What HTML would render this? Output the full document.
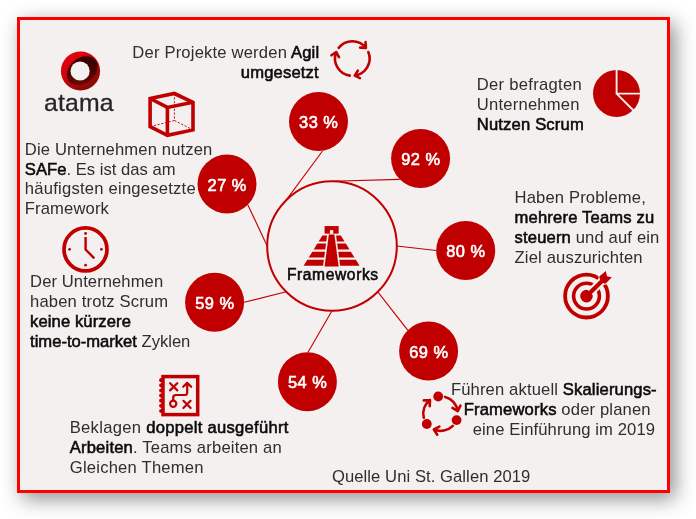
<!DOCTYPE html>
<html lang="de"><head><meta charset="utf-8"><title>Frameworks</title>
<style>
html,body{margin:0;padding:0;background:#fff}
body{width:696px;height:519px;position:relative;overflow:hidden;font-family:"Liberation Sans",sans-serif}
.panel{position:absolute;left:17px;top:17px;width:653px;height:476px;box-sizing:border-box;border:3px solid #ff0000;background:#f3f0ef;box-shadow:5px 6px 19px rgba(0,0,0,.44)}
svg{position:absolute;left:0;top:0}
.t{position:absolute;white-space:nowrap;font-size:16.6px;line-height:20px;color:#2e2e2e;--ls:0px;letter-spacing:var(--ls)}
.t b{font-weight:normal;-webkit-text-stroke:0.55px #0a0a0a;letter-spacing:var(--ls);color:#0a0a0a}
.p{position:absolute;width:60px;text-align:center;color:#fff;font-weight:normal;-webkit-text-stroke:.6px #fff;font-size:16.4px;line-height:20px;letter-spacing:.5px;text-indent:.5px}
</style></head><body>
<div class="panel"></div>
<svg width="696" height="519" viewBox="0 0 696 519">
<line x1="322.5" y1="151.0" x2="286.2" y2="200.2" stroke="#c00000" stroke-width="1.1"/>
<line x1="399.7" y1="179.4" x2="332.0" y2="181.2" stroke="#c00000" stroke-width="1.1"/>
<line x1="436.2" y1="250.5" x2="396.8" y2="246.0" stroke="#c00000" stroke-width="1.1"/>
<line x1="407.7" y1="330.2" x2="377.8" y2="291.8" stroke="#c00000" stroke-width="1.1"/>
<line x1="308.0" y1="352.2" x2="332.0" y2="310.8" stroke="#c00000" stroke-width="1.1"/>
<line x1="244.1" y1="302.3" x2="286.2" y2="291.8" stroke="#c00000" stroke-width="1.1"/>
<line x1="247.9" y1="204.9" x2="267.2" y2="246.0" stroke="#c00000" stroke-width="1.1"/>
<circle cx="332" cy="246" r="64.8" fill="#f3f0ef" stroke="#c00000" stroke-width="2"/>
<circle cx="318.5" cy="121.5" r="29.5" fill="#c00000"/>
<circle cx="420.6" cy="158.5" r="29.5" fill="#c00000"/>
<circle cx="465.7" cy="250.5" r="29.5" fill="#c00000"/>
<circle cx="428.6" cy="351.1" r="29.5" fill="#c00000"/>
<circle cx="307.4" cy="381.7" r="29.5" fill="#c00000"/>
<circle cx="214.6" cy="302.3" r="29.5" fill="#c00000"/>
<circle cx="227" cy="184" r="29.5" fill="#c00000"/>
<polygon points="324.57,226.06 338.64,226.06 338.64,233.65 324.57,233.65" fill="#c00000"/>
<polygon points="329.94,230.17 333.26,230.17 333.26,233.81 329.94,233.81" fill="#f3f0ef"/>
<polygon points="328.84,234.44 334.37,234.44 338.64,266.53 324.57,266.53" fill="#c00000"/>
<polygon points="322.36,235.55 327.11,235.55 326.31,241.55 318.63,241.55" fill="#c00000"/>
<polygon points="340.85,235.55 336.10,235.55 336.90,241.55 344.58,241.55" fill="#c00000"/>
<polygon points="317.35,243.61 326.04,243.61 325.26,249.46 313.72,249.46" fill="#c00000"/>
<polygon points="345.86,243.61 337.17,243.61 337.95,249.46 349.49,249.46" fill="#c00000"/>
<polygon points="312.35,251.67 324.97,251.67 324.19,257.52 308.72,257.52" fill="#c00000"/>
<polygon points="350.86,251.67 338.24,251.67 339.02,257.52 354.49,257.52" fill="#c00000"/>
<polygon points="307.34,259.73 323.89,259.73 323.10,265.73 303.61,265.73" fill="#c00000"/>
<polygon points="355.87,259.73 339.31,259.73 340.11,265.73 359.60,265.73" fill="#c00000"/>
<path d="M150.1 98.5L174.4 93.5L193.0 102.3L193.0 129.9L167.4 135.3L150.1 126.6Z" fill="none" stroke="#c00000" stroke-width="3.6" stroke-linejoin="miter"/>
<path d="M150.1 98.5L167.4 107.4L193.0 102.3" fill="none" stroke="#c00000" stroke-width="3.6" stroke-linejoin="miter"/>
<path d="M167.4 107.4L167.4 135.3" fill="none" stroke="#c00000" stroke-width="3.6" stroke-linejoin="miter"/>
<path d="M174.4 93.5L174.4 120.5" fill="none" stroke="#c00000" stroke-width="0.9" stroke-linejoin="miter" stroke-dasharray="2.2 1.6"/>
<path d="M174.4 120.5L150.1 126.6" fill="none" stroke="#c00000" stroke-width="0.9" stroke-linejoin="miter" stroke-dasharray="2.2 1.6"/>
<path d="M174.4 120.5L193.0 129.9" fill="none" stroke="#c00000" stroke-width="0.9" stroke-linejoin="miter" stroke-dasharray="2.2 1.6"/>
<circle cx="85.5" cy="249.4" r="21.5" fill="none" stroke="#c00000" stroke-width="3.7"/>
<path d="M85.6 237V249.6L94.3 258.3" fill="none" stroke="#c00000" stroke-width="2.4"/>
<circle cx="85.6" cy="233.5" r="1.4" fill="#c00000"/>
<circle cx="101.4" cy="249.3" r="1.4" fill="#c00000"/>
<circle cx="85.6" cy="265.2" r="1.4" fill="#c00000"/>
<circle cx="69.6" cy="249.3" r="1.4" fill="#c00000"/>
<path d="M368.34 52.02A17.3 17.3 0 0 1 354.71 75.63M359.92 78.17L354.71 75.63L357.78 70.71" fill="none" stroke="#c00000" stroke-width="2.6" stroke-linecap="round" stroke-linejoin="round"/>
<path d="M349.89 75.63A17.3 17.3 0 0 1 336.26 52.02M331.45 55.26L336.26 52.02L338.98 57.14" fill="none" stroke="#c00000" stroke-width="2.6" stroke-linecap="round" stroke-linejoin="round"/>
<path d="M338.67 47.85A17.3 17.3 0 0 1 365.93 47.85M365.53 42.06L365.93 47.85L360.14 47.65" fill="none" stroke="#c00000" stroke-width="2.6" stroke-linecap="round" stroke-linejoin="round"/>
<circle cx="616.5" cy="93.5" r="23.5" fill="#c00000"/>
<path d="M616.6 69V93.6H641M616.6 93.6L634 111" fill="none" stroke="#f3f0ef" stroke-width="1.9"/>
<circle cx="586.5" cy="296.1" r="21.4" fill="none" stroke="#c00000" stroke-width="3.8"/>
<circle cx="586.5" cy="296.1" r="12.9" fill="none" stroke="#c00000" stroke-width="3.6"/>
<circle cx="586.5" cy="296.1" r="6.3" fill="#c00000"/>
<path d="M590.2 292.4L604.1 278.9" stroke="#f3f0ef" stroke-width="8.4" fill="none"/>
<polygon points="599.47,276.55 605.83,271.35 606.75,276.55 611.60,277.13 605.48,283.48 600.63,282.56" fill="#c00000" stroke="#f3f0ef" stroke-width="2.2" paint-order="stroke"/>
<path d="M587.7 294.9L604.1 278.9" stroke="#c00000" stroke-width="4.2" fill="none"/>
<polygon points="599.47,276.55 605.83,271.35 606.75,276.55 611.60,277.13 605.48,283.48 600.63,282.56" fill="#c00000"/>
<circle cx="438.2" cy="396.5" r="4.9" fill="#c00000"/>
<path d="M445.08 396.89A17.3 17.3 0 0 1 457.73 411.19M460.45 405.62L457.73 411.19L452.47 407.91" fill="none" stroke="#c00000" stroke-width="2.6" stroke-linecap="round" stroke-linejoin="round"/>
<circle cx="456.6" cy="420.1" r="4.9" fill="#c00000"/>
<path d="M452.83 425.83A17.3 17.3 0 0 1 433.84 429.52M437.22 434.72L433.84 429.52L439.36 426.71" fill="none" stroke="#c00000" stroke-width="2.6" stroke-linecap="round" stroke-linejoin="round"/>
<circle cx="426.8" cy="424.0" r="4.9" fill="#c00000"/>
<path d="M423.81 417.79A17.3 17.3 0 0 1 429.95 399.97M423.76 400.40L429.95 399.97L429.73 406.16" fill="none" stroke="#c00000" stroke-width="2.6" stroke-linecap="round" stroke-linejoin="round"/>
<rect x="163" y="376.6" width="34.7" height="38" fill="none" stroke="#c00000" stroke-width="3.5"/>
<circle cx="161.2" cy="380.2" r="2.1" fill="#c00000"/>
<circle cx="161.2" cy="385.3" r="2.1" fill="#c00000"/>
<circle cx="161.2" cy="390.5" r="2.1" fill="#c00000"/>
<circle cx="161.2" cy="395.6" r="2.1" fill="#c00000"/>
<circle cx="161.2" cy="400.7" r="2.1" fill="#c00000"/>
<circle cx="161.2" cy="405.8" r="2.1" fill="#c00000"/>
<circle cx="161.2" cy="411.0" r="2.1" fill="#c00000"/>
<path d="M170.1 383.2L177.29999999999998 390.40000000000003M177.29999999999998 383.2L170.1 390.40000000000003" stroke="#c00000" stroke-width="2.2" fill="none" stroke-linecap="round"/>
<path d="M183.4 400.79999999999995L190.6 408.0M190.6 400.79999999999995L183.4 408.0" stroke="#c00000" stroke-width="2.2" fill="none" stroke-linecap="round"/>
<circle cx="173.2" cy="403.8" r="3.1" fill="none" stroke="#c00000" stroke-width="2.2"/>
<path d="M173.2 400.6V397.6Q173.2 395 175.8 395H184.6Q187.2 395 187.2 392.4V383.4M183.2 386.8L187.2 382.9L191.2 386.8" fill="none" stroke="#c00000" stroke-width="2.2" stroke-linecap="round" stroke-linejoin="round"/>
<defs>
<linearGradient id="lg1" x1="0.15" y1="0.1" x2="0.75" y2="1"><stop offset="0" stop-color="#e6000f"/><stop offset="0.45" stop-color="#c8050c"/><stop offset="1" stop-color="#7c0a06"/></linearGradient>
<linearGradient id="lg2" x1="1" y1="0" x2="0" y2="1"><stop offset="0" stop-color="#2a0000"/><stop offset="0.5" stop-color="#4a0300"/><stop offset="1" stop-color="#7a0a04"/></linearGradient>
</defs>
<circle cx="80.5" cy="71" r="19.6" fill="url(#lg1)"/>
<ellipse cx="82.3" cy="70.7" rx="17" ry="12.6" transform="rotate(-38 82.3 70.7)" fill="url(#lg2)"/>
<circle cx="80.1" cy="71" r="9.6" fill="#f3f0ef"/>
</svg>
<div class="t" id="t0" style="left:132.30px;top:43px;--ls:0.185px">Der Projekte werden <b>Agil</b></div>
<div class="t" id="t1" style="right:377.25px;top:63px;--ls:0.150px"><b>umgesetzt</b></div>
<div class="t" id="t2" style="left:24.85px;top:140px;--ls:0.142px">Die Unternehmen nutzen</div>
<div class="t" id="t3" style="left:24.85px;top:160px;--ls:0.026px"><b>SAFe</b>. Es ist das am</div>
<div class="t" id="t4" style="left:24.85px;top:179px;--ls:0.226px">häufigsten eingesetzte</div>
<div class="t" id="t5" style="left:24.85px;top:199px;--ls:0.130px">Framework</div>
<div class="t" id="t6" style="left:30.10px;top:272px;--ls:0.081px">Der Unternehmen</div>
<div class="t" id="t7" style="left:30.10px;top:292px;--ls:0.150px">haben trotz Scrum</div>
<div class="t" id="t8" style="left:30.10px;top:312px;--ls:0.097px"><b>keine kürzere</b></div>
<div class="t" id="t9" style="left:30.10px;top:332px;--ls:-0.010px"><b>time-to-market</b> Zyklen</div>
<div class="t" id="t10" style="left:69.75px;top:418px;--ls:0.285px">Beklagen <b>doppelt ausgeführt</b></div>
<div class="t" id="t11" style="left:69.75px;top:438px;--ls:0.181px"><b>Arbeiten</b>. Teams arbeiten an</div>
<div class="t" id="t12" style="left:69.75px;top:458px;--ls:0.219px">Gleichen Themen</div>
<div class="t" id="t13" style="left:476.80px;top:75px;--ls:0.283px">Der befragten</div>
<div class="t" id="t14" style="left:476.80px;top:95px;--ls:0.214px">Unternehmen</div>
<div class="t" id="t15" style="left:476.80px;top:115px;--ls:0.165px"><b>Nutzen Scrum</b></div>
<div class="t" id="t16" style="left:514.55px;top:188px;--ls:0.150px">Haben Probleme,</div>
<div class="t" id="t17" style="left:514.55px;top:208px;--ls:0.171px"><b>mehrere Teams zu</b></div>
<div class="t" id="t18" style="left:514.55px;top:228px;--ls:0.150px"><b>steuern</b> und auf ein</div>
<div class="t" id="t19" style="left:514.55px;top:248px;--ls:0.160px">Ziel auszurichten</div>
<div class="t" id="t20" style="right:39.21px;top:380px;--ls:0.144px">Führen aktuell <b>Skalierungs-</b></div>
<div class="t" id="t21" style="right:45.24px;top:400px;--ls:0.158px"><b>Frameworks</b> oder planen</div>
<div class="t" id="t22" style="right:40.94px;top:420px;--ls:0.106px">eine Einführung im 2019</div>
<div class="t" id="t23" style="left:332.00px;top:467px;--ls:0.073px">Quelle Uni St. Gallen 2019</div>
<div class="t" id="fw" style="left:286.9px;top:264.6px;font-size:15.6px;--ls:0.609px;color:#000"><b>Frameworks</b></div>
<div class="p" style="left:288.5px;top:112.0px">33 %</div>
<div class="p" style="left:390.6px;top:149.0px">92 %</div>
<div class="p" style="left:435.7px;top:241.0px">80 %</div>
<div class="p" style="left:398.6px;top:341.6px">69 %</div>
<div class="p" style="left:277.4px;top:372.2px">54 %</div>
<div class="p" style="left:184.6px;top:292.8px">59 %</div>
<div class="p" style="left:197.0px;top:174.5px">27 %</div>
<div class="t" id="logo" style="left:44.42px;top:92.5px;font-size:23.2px;--ls:0.160px;color:#262626;transform:scaleX(1.07);transform-origin:0 0;-webkit-text-stroke:.3px #262626">atama</div>
</body></html>
